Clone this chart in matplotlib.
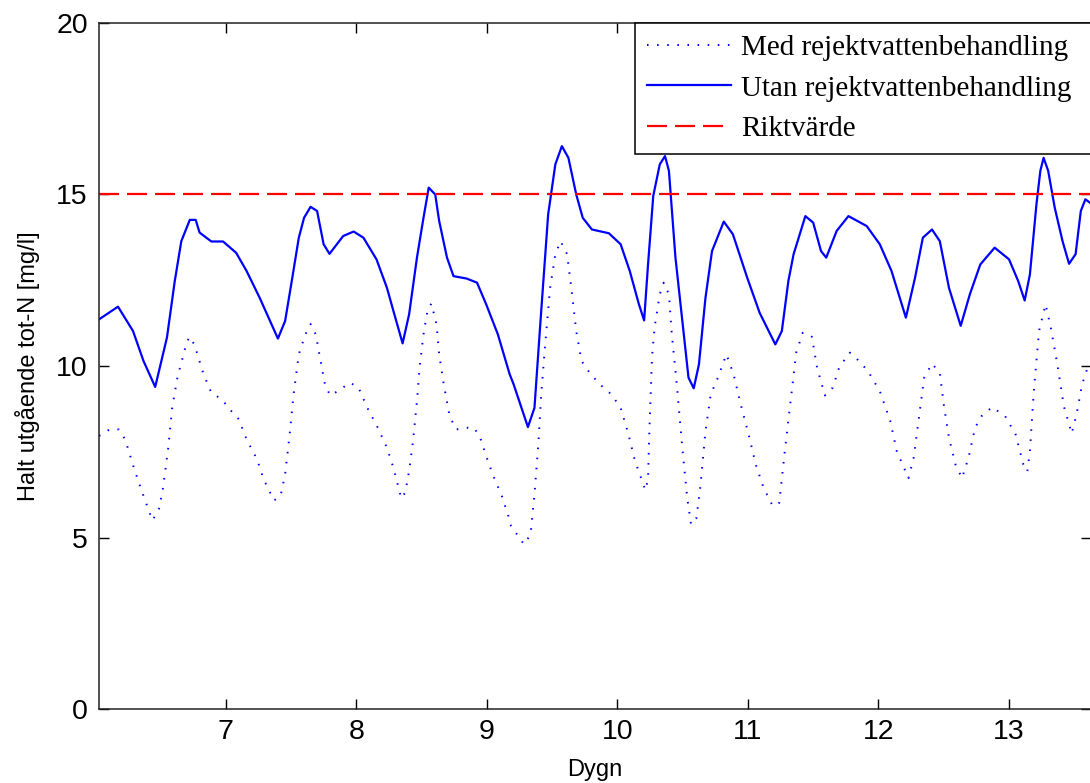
import numpy as np
import matplotlib
matplotlib.use("Agg")
import matplotlib.pyplot as plt

# Halt utgående tot-N
dygn_utan = [6.03, 6.175, 6.29, 6.37, 6.46, 6.55, 6.61, 6.66, 6.725, 6.77, 6.80, 6.89, 6.98,
             7.08, 7.16, 7.26, 7.34, 7.40, 7.455, 7.51, 7.56, 7.60, 7.65, 7.70, 7.75, 7.795,
             7.90, 7.98, 8.055, 8.155, 8.235, 8.285, 8.355, 8.405, 8.465, 8.515, 8.555, 8.605,
             8.635, 8.695, 8.745, 8.845, 8.925, 8.995, 9.085, 9.175, 9.205, 9.315, 9.365,
             9.415, 9.47, 9.525, 9.575, 9.625, 9.685, 9.735, 9.805, 9.935, 10.025, 10.095,
             10.165, 10.205, 10.235, 10.275, 10.325, 10.365, 10.395, 10.445, 10.495, 10.545,
             10.585, 10.625, 10.675, 10.725, 10.815, 10.885, 10.995, 11.09, 11.21, 11.26,
             11.31, 11.35, 11.44, 11.50, 11.56, 11.60, 11.68, 11.77, 11.91, 12.01, 12.10,
             12.21, 12.28, 12.34, 12.41, 12.47, 12.54, 12.63, 12.70, 12.78, 12.89, 13.0,
             13.07, 13.12, 13.16, 13.21, 13.24, 13.265, 13.30, 13.35, 13.41, 13.46, 13.51,
             13.55, 13.585, 13.62, 13.64]
halt_utan = [11.36, 11.73, 11.02, 10.15, 9.39, 10.83, 12.48, 13.64, 14.26, 14.26, 13.89, 13.63, 13.63,
             13.30, 12.77, 11.99, 11.31, 10.80, 11.31, 12.57, 13.74, 14.32, 14.64, 14.52, 13.55, 13.27,
             13.79, 13.92, 13.74, 13.11, 12.28, 11.60, 10.66, 11.51, 13.16, 14.32, 15.20, 15.0,
             14.23, 13.16, 12.62, 12.55, 12.43, 11.80, 10.92, 9.76, 9.47, 8.22, 8.78,
             11.51, 14.42, 15.88, 16.41, 16.07, 15.0, 14.32, 13.98, 13.87, 13.55, 12.77,
             11.80, 11.33, 12.96, 14.96, 15.88, 16.12, 15.69, 13.16, 11.41, 9.66,
             9.35, 10.05, 11.99, 13.35, 14.21, 13.84, 12.57, 11.55, 10.63, 11.02,
             12.48, 13.26, 14.37, 14.18, 13.35, 13.16, 13.94, 14.37, 14.08, 13.55, 12.77,
             11.41, 12.57, 13.74, 13.98, 13.64, 12.28, 11.17, 12.09, 12.96, 13.45, 13.11,
             12.48, 11.91, 12.67, 14.71, 15.69, 16.07, 15.69, 14.62, 13.64, 12.98, 13.26,
             14.52, 14.86, 14.76, 14.7]

dygn_med = [6.03, 6.11, 6.18, 6.23, 6.30, 6.355, 6.41, 6.44, 6.49, 6.52, 6.56, 6.59, 6.63, 6.69,
            6.72, 6.76, 6.83, 6.89, 6.97, 7.03, 7.10, 7.16, 7.24, 7.29, 7.37, 7.42, 7.455, 7.49,
            7.52, 7.56, 7.61, 7.65, 7.69, 7.72, 7.76, 7.80, 7.86, 7.95, 8.015, 8.085, 8.165,
            8.235, 8.285, 8.345, 8.375, 8.405, 8.435, 8.465, 8.485, 8.515, 8.545, 8.575, 8.615,
            8.635, 8.67, 8.715, 8.765, 8.855, 8.90, 8.945, 8.995, 9.045, 9.115, 9.165, 9.185,
            9.285, 9.335, 9.365, 9.395, 9.415, 9.445, 9.485, 9.525, 9.565, 9.615, 9.65, 9.685,
            9.725, 9.795, 9.88, 9.955, 10.025, 10.085, 10.135, 10.215, 10.235, 10.245, 10.265,
            10.285, 10.325, 10.355, 10.395, 10.415, 10.455, 10.495, 10.535, 10.565, 10.605,
            10.635, 10.675, 10.715, 10.77, 10.835, 10.89, 10.945, 11.005, 11.06, 11.12, 11.19,
            11.24, 11.285, 11.33, 11.37, 11.42, 11.49, 11.53, 11.59, 11.65, 11.70, 11.78, 11.85,
            11.92, 12.01, 12.09, 12.14, 12.23, 12.27, 12.31, 12.35, 12.41, 12.47, 12.50, 12.54,
            12.59, 12.64, 12.69, 12.74, 12.79, 12.87, 12.97, 13.05, 13.11, 13.14, 13.16, 13.19,
            13.23, 13.28, 13.32, 13.37, 13.42, 13.48, 13.52, 13.56, 13.61, 13.64]
halt_med = [7.96, 8.15, 8.15, 7.86, 6.99, 6.38, 5.79, 5.50, 5.85, 6.45, 7.62, 8.78, 9.66, 10.53,
            10.85, 10.63, 9.76, 9.22, 9.03, 8.74, 8.45, 7.86, 7.28, 6.70, 6.08, 6.21, 6.84, 8.01,
            9.17, 10.34, 10.92, 11.22, 10.92, 10.29, 9.47, 9.14, 9.27, 9.51, 9.39, 8.78, 8.20,
            7.62, 7.03, 6.14, 6.31, 6.94, 7.81, 8.98, 9.95, 10.92, 11.60, 11.82, 11.22,
            10.34, 9.47, 8.54, 8.15, 8.20, 8.20, 7.96, 7.38, 6.84, 6.21, 5.63, 5.34,
            4.80, 5.09, 6.26, 7.72, 9.08, 10.53, 12.28, 13.26, 13.64, 13.26, 12.19, 11.02,
            10.15, 9.76, 9.42, 9.17, 8.78, 8.01, 7.23, 6.38, 6.70, 8.10, 10.24,
            11.12, 12.09, 12.43, 12.09, 11.02, 9.47, 7.72, 6.16, 5.38, 5.56,
            6.45, 8.10, 9.17, 9.66, 10.34, 9.76, 8.88, 8.01, 7.13, 6.45, 5.92,
            6.01, 7.6, 9.08, 10.39, 10.97, 10.85, 9.95, 9.14, 9.37, 9.97, 10.39, 10.15,
            9.85, 9.27, 8.40, 7.52, 6.73, 7.33, 8.49, 9.66, 10.07, 9.80, 8.88, 7.91,
            7.13, 6.73, 7.33, 8.20, 8.54, 8.80, 8.54, 8.01, 7.13, 6.92, 7.52, 9.27,
            11.02, 11.80, 11.12, 10.05, 8.83, 8.03, 8.64, 9.47, 10.05, 10.1]

riktvarde = 15
labels = ["Med rejektvattenbehandling", "Utan rejektvattenbehandling", "Riktvärde"]

plt.rcParams['font.family'] = ['Liberation Sans', 'DejaVu Sans']

fig = plt.figure(figsize=(10.9, 7.83), dpi=100)
ax = fig.add_axes([99 / 1090, 74 / 783, 992 / 1090, 686 / 783])

ax.plot(dygn_med, halt_med, color='#0000ff', lw=1.4, linestyle=(0, (0.8, 4.4)), label=labels[0])
ax.plot(dygn_utan, halt_utan, color='#0000ff', lw=1.6, label=labels[1])
ax.axhline(riktvarde, color='#ff0000', lw=1.6, linestyle=(0, (9, 3.6)), label=labels[2])

ax.set_xlim(6.0295, 13.628)
ax.set_ylim(0, 20)
ax.set_xticks([7, 8, 9, 10, 11, 12, 13])
ax.set_yticks([0, 5, 10, 15, 20])
ax.tick_params(direction='in', length=7, width=1.0, top=True, right=True,
               labelsize=20.5, colors='black')
ax.tick_params(axis='y', pad=8)
ax.tick_params(axis='x', pad=7)
for s in ax.spines.values():
    s.set_linewidth(1.1)
    s.set_color('#222222')

ax.set_xlabel("Dygn", fontsize=17, labelpad=10)
ax.set_ylabel("Halt utgående tot-N [mg/l]", fontsize=17, labelpad=12)

x0 = (635 - 99) / 992
leg = ax.legend(loc='upper left', bbox_to_anchor=(x0, 0, 1 - x0, 1), mode='expand',
                borderaxespad=0, prop={'family': 'Liberation Serif', 'size': 21},
                handlelength=2.9, handletextpad=0.34, labelspacing=0.48, borderpad=0.4,
                fancybox=False, framealpha=1, edgecolor='black')
leg.get_frame().set_linewidth(1.1)

fig.savefig("out.png", dpi=100)
